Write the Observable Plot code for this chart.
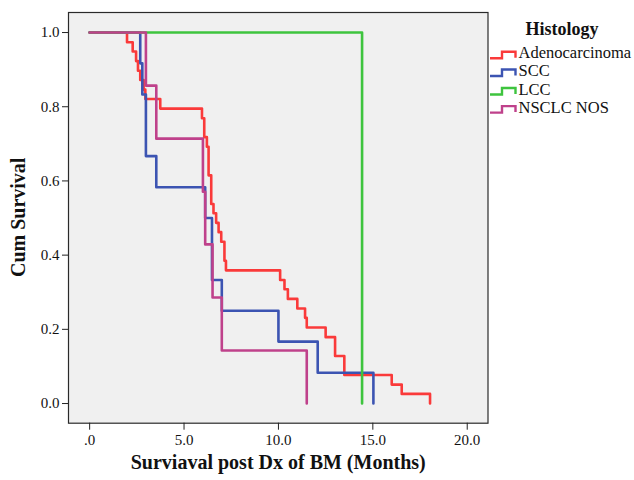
<!DOCTYPE html>
<html>
<head>
<meta charset="utf-8">
<script src="https://cdn.jsdelivr.net/npm/d3@7"></script>
<script src="https://cdn.jsdelivr.net/npm/@observablehq/plot@0.6"></script>
<style>
  html, body { margin: 0; padding: 0; background: #ffffff; }
  #chart { width: 634px; height: 480px; }
</style>
</head>
<body>
<div id="chart"></div>
<script>
const seriesNames = ["Adenocarcinoma", "SCC", "LCC", "NSCLC NOS"];
const seriesColors = ["#fa3a3a", "#3c54b2", "#3ec43e", "#bf418b"];

const adenoTime = [0, 1.98, 2.28, 2.46, 2.56, 2.68, 2.86, 2.95, 3.74, 5.95, 6.07, 6.21, 6.30, 6.44, 6.56, 6.70, 6.83, 6.97, 7.14, 7.22, 10.09, 10.32, 10.5, 11.0, 11.41, 11.5, 12.5, 13.0, 13.49, 16.0, 16.53, 18.03];
const adenoSurv = [1, 0.974, 0.949, 0.923, 0.897, 0.872, 0.846, 0.821, 0.795, 0.769, 0.718, 0.692, 0.615, 0.538, 0.513, 0.487, 0.462, 0.436, 0.385, 0.359, 0.333, 0.308, 0.282, 0.256, 0.231, 0.205, 0.179, 0.128, 0.077, 0.051, 0.026, 0];

const sccTime = [0, 2.68, 2.79, 2.98, 3.53, 6.12, 6.48, 7.0, 10.0, 12.08, 15.03];
const sccSurv = [1, 0.917, 0.833, 0.667, 0.583, 0.5, 0.333, 0.25, 0.167, 0.083, 0];

const lccTime = [0, 14.43];
const lccSurv = [1, 0];

const nosTime = [0, 2.98, 3.53, 6.0, 6.12, 6.51, 7.0, 11.5];
const nosSurv = [1, 0.857, 0.714, 0.571, 0.429, 0.286, 0.143, 0];

const xTicks = [0, 5, 10, 15, 20];
const yTicks = [0, 0.2, 0.4, 0.6, 0.8, 1.0];

// ---- Build table ----
const times = [adenoTime, sccTime, lccTime, nosTime];
const survs = [adenoSurv, sccSurv, lccSurv, nosSurv];
const rows = [];
seriesNames.forEach((name, i) => {
  times[i].forEach((t, j) => rows.push({group: name, time: t, surv: survs[i][j]}));
});

const fontFamily = "'Liberation Serif', 'Times New Roman', serif";

const plot = Plot.plot({
  width: 634,
  height: 480,
  marginLeft: 68,
  marginRight: 146.5,
  marginTop: 12,
  marginBottom: 57.3,
  style: {fontFamily, fontSize: "15px", color: "#111", background: "transparent"},
  x: {domain: [-1.12, 21.1]},
  y: {domain: [-0.053, 1.054]},
  color: {domain: seriesNames, range: seriesColors},
  marks: [
    Plot.frame({fill: "#f0f0f0", stroke: "#2a2a2a", strokeWidth: 1.2}),
    Plot.axisX({ticks: xTicks, tickFormat: d => d === 0 ? ".0" : d.toFixed(1), tickSize: 7, tickPadding: 4, fontSize: 15, label: null, stroke: "#222"}),
    Plot.axisY({ticks: yTicks, tickFormat: d => d.toFixed(1), tickSize: 6, tickPadding: 3, fontSize: 15, label: null, stroke: "#222"}),
    Plot.line(rows, {x: "time", y: "surv", z: "group", stroke: "group", curve: "step-after", strokeWidth: 2.6}),
    Plot.text(["Surviaval post Dx of BM (Months)"], {frameAnchor: "bottom", dy: 46, fontSize: 20, fontWeight: "bold", fill: "#111"})
  ]
});

const svg = d3.select(plot);

// Y axis title (rotated)
svg.append("text")
  .attr("transform", "translate(25,217.3) rotate(-90)")
  .attr("text-anchor", "middle")
  .attr("font-family", fontFamily)
  .attr("font-size", 20).attr("font-weight", "bold").attr("fill", "#111")
  .text("Cum Survival");

// Legend (to the right of the frame)
const lg = svg.append("g").attr("font-family", fontFamily).attr("text-anchor", "start");
lg.append("text").attr("x", 562).attr("y", 35).attr("text-anchor", "middle")
  .attr("font-size", 18).attr("font-weight", "bold").attr("fill", "#111").text("Histology");
const baselines = [58.3, 76, 94.5, 112.6];
seriesNames.forEach((name, i) => {
  const b = baselines[i];
  lg.append("path")
    .attr("d", `M490,${b} H502 V${b - 6.5} H515.5 V${b - 0.5}`)
    .attr("fill", "none").attr("stroke", seriesColors[i]).attr("stroke-width", 2.4);
  lg.append("text").attr("x", 518.5).attr("y", b).attr("text-anchor", "start")
    .attr("font-size", 16.5).attr("fill", "#111").text(name);
});

document.getElementById("chart").appendChild(plot);
</script>
</body>
</html>
